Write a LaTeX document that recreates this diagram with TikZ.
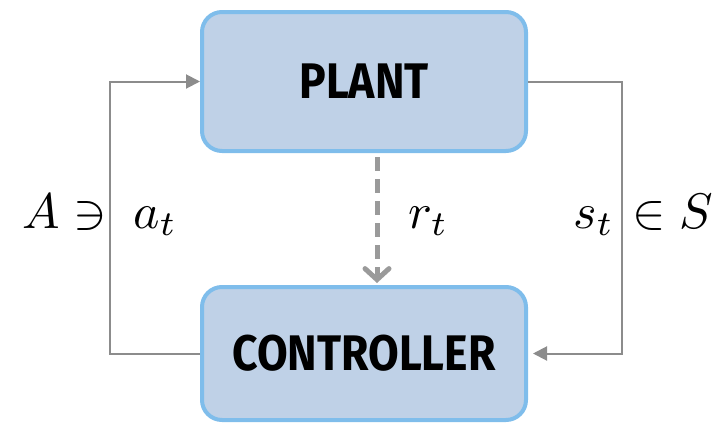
\documentclass[tikz,border=0pt]{standalone}
\usepackage{fontspec}
\usepackage{graphicx}
\usetikzlibrary{arrows.meta}
\newfontfamily\blockfont{Fira Sans}[FakeStretch=0.89]
\definecolor{boxfill}{HTML}{BFD1E7}
\definecolor{boxline}{HTML}{7FBDEB}
\definecolor{wire}{HTML}{8C8C8C}
\definecolor{dashwire}{HTML}{9A9A9A}
\newcommand{\bigsym}[1]{\scalebox{5.0}{$#1$}}
\tikzset{
  block/.style={draw=boxline, fill=boxfill, line width=4pt, rounded corners=20pt,
    minimum width=324pt, font=\blockfont\bfseries\fontsize{50}{60}\selectfont},
  flow/.style={draw=wire, line width=2pt, -{Triangle[length=14pt,width=14pt]}},
  reward/.style={draw=dashwire, line width=5pt, dash pattern=on 14pt off 8pt,
    -{Straight Barb[length=11pt,width=24pt,line cap=round]}},
  sym/.style={inner sep=0pt, anchor=base west}
}
\begin{document}
\begin{tikzpicture}[x=1pt,y=-1pt]
  \useasboundingbox (0,0) rectangle (713,424);
  \node[block, minimum height=139pt] (plant) at (364,81.5) {PLANT};
  \node[block, minimum height=133pt] (ctrl) at (364,353.5) {CONTROLLER};
  % action loop on the left
  \coordinate (lc) at (110,0);
  \draw[flow] (ctrl.west) -- (ctrl.west -| lc) |- (plant.west);
  % state loop on the right
  \coordinate (rc) at (622,0);
  \draw[flow, shorten >=5pt] (plant.east) -- (plant.east -| rc) |- (ctrl.east);
  % reward signal
  \draw[reward, shorten <=4pt, shorten >=2pt] ([xshift=13pt]plant.south) -- ([xshift=13pt]ctrl.north);
  % labels
  \node[sym] (la) at (22,228) {\bigsym{A\ni}};
  \node[sym] (lat) at (133,228) {\bigsym{a_t}};
  \node[sym] (lr) at (408,228) {\bigsym{r_t}};
  \node[sym] (ls) at (573,228) {\bigsym{s_t}};
  \node[sym] (lS) at (632,228) {\bigsym{\in S}};
\end{tikzpicture}
\end{document}
